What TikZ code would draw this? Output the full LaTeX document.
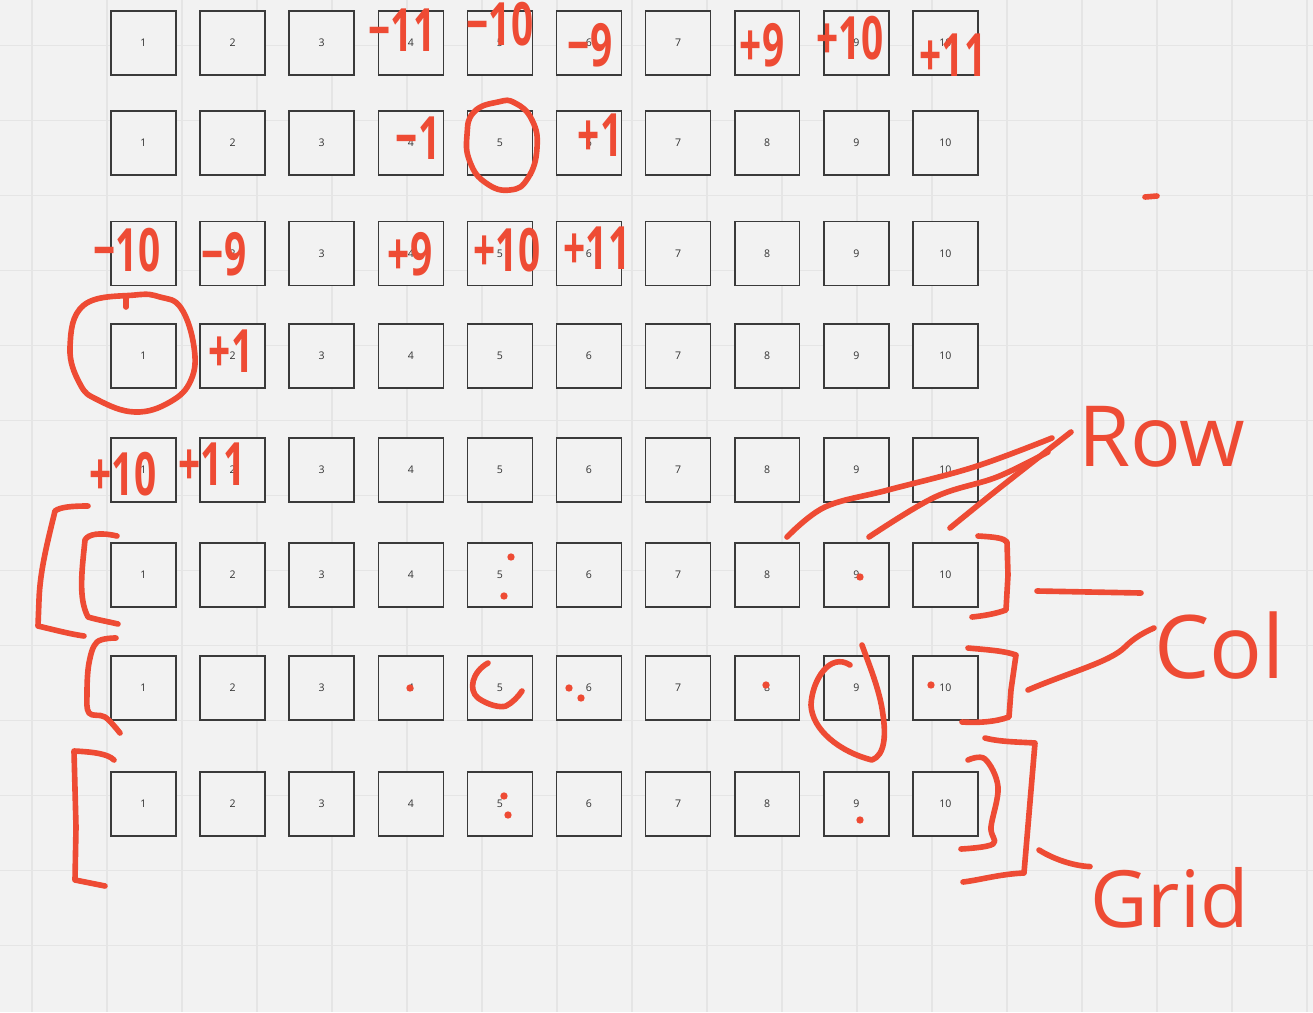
\documentclass[tikz,border=0pt]{standalone}
\usepackage{fontspec}
\setmainfont{Open Sans}
\newfontfamily\handfont[FakeStretch=0.65]{Open Sans}
\usetikzlibrary{positioning,calc}
\definecolor{PaperBg}{RGB}{242,242,242}
\definecolor{GridLine}{RGB}{229,229,229}
\definecolor{BoxLine}{RGB}{58,58,58}
\definecolor{PenRed}{RGB}{238,75,52}

\begin{document}
\begin{tikzpicture}[
    x=0.02cm, y=-0.02cm,
    cell/.style={rectangle, draw=BoxLine, line width=0.9pt, fill=PaperBg, inner sep=0pt,
        minimum width=1.3cm, minimum height=1.28cm, font=\fontsize{6}{7}\selectfont, text=black!80},
    pen/.style={draw=PenRed, line width=3.2pt, line cap=round, line join=round},
    hand/.style={text=PenRed, inner sep=0pt, font=\handfont\bfseries\fontsize{34}{34}\selectfont},
    word/.style={text=PenRed, inner sep=0pt, anchor=base west}
]
% paper and faint grid
\fill[PaperBg] (0,0) rectangle (1313,1012);
\useasboundingbox (0,0) rectangle (1313,1012);
\foreach \gx in {32,107,...,1307} \draw[GridLine, line width=0.6pt] (\gx,0) -- (\gx,1012);
\foreach \gy in {45.5,120.5,...,1010} \draw[GridLine, line width=0.6pt] (0,\gy) -- (1313,\gy);

% the eight rows of cells
\foreach \r/\ry in {1/43,2/143,3/253.5,4/356,5/470,6/575,7/688,8/804}
  \foreach \c in {1,...,10}
    \node[cell] (s\r-\c) at ({143.5+89.1*(\c-1)},\ry) {\c};

% offsets written over the cells
\node[hand] (r1m11) at (402,30) {−11};
\node[hand] (r1m10) at (500,24) {−10};
\node[hand] (r1m9)  at (590,45) {−9};
\node[hand] (r1p9)  at (762,45) {+9};
\node[hand] (r1p10) at (850,38) {+10};
\node[hand] (r1p11) at (953,55) {+11};
\node[hand] (r2m1)  at (418,138) {−1};
\node[hand] (r2p1)  at (600,135) {+1};
\node[hand] (r3m10) at (127,250) {−10};
\node[hand] (r3m9)  at (224,254) {−9};
\node[hand] (r3p9)  at (410,254) {+9};
\node[hand] (r3p10) at (507,250) {+10};
\node[hand] (r3p11) at (597,248) {+11};
\node[hand] (r4p1)  at (231,351) {+1};
\node[hand] (r5p10) at (123,474) {+10};
\node[hand] (r5p11) at (212,464) {+11};

% rings round the chosen cells
\draw[pen] plot[smooth cycle, tension=0.8] coordinates {(498,102) (474,112) (467,135) (470,162) (486,183) (510,190) (528,178) (537,148) (532,120) (515,103)};
\draw[pen] plot[smooth cycle, tension=0.7] coordinates {(135,295) (84,305) (70,347) (80,384) (98,400) (135,412) (170,402) (191,380) (194,347) (181,308) (160,297)};
\draw[pen] (126,298) -- (126,307);
\draw[pen] (488,663) .. controls (472,672) and (468,690) .. (478,698) .. controls (488,705) and (500,708) .. (506,706) .. controls (512,703) and (518,697) .. (522,691);
\draw[pen] (850,665) .. controls (830,652) and (812,680) .. (811,705) .. controls (812,730) and (840,752) .. (872,760) .. controls (885,755) and (886,735) .. (883,715) .. controls (880,690) and (868,662) .. (862,645);

% dots
\foreach \dx/\dy in {511/557,504/596,860/577,410/688,569/688,581/698,766/685,931/685,504/796,508/815,860/820}
  \fill[PenRed] (\dx,\dy) circle (2.1pt);
\draw[pen] (1145,197) -- (1157,196);

% brackets on the left
\draw[pen] (88,506) .. controls (72,506) and (60,507) .. (55,511) .. controls (48,540) and (40,570) .. (39,600) -- (38,626) .. controls (55,630) and (70,634) .. (84,636);
\draw[pen] (117,536) .. controls (100,532) and (88,534) .. (85,540) .. controls (82,570) and (78,598) .. (88,617) .. controls (98,620) and (110,622) .. (118,624);
\draw[pen] plot[smooth, tension=0.6] coordinates {(116,638) (97,642) (89,663) (87,693) (89,713) (105,717) (120,733)};
\draw[pen] (114,760) .. controls (108,754) and (95,752) .. (74,751) -- (76,827) -- (75,880) -- (105,886);

% brackets on the right
\draw[pen] (978,536) .. controls (995,537) and (1004,538) .. (1007,542) -- (1008,575) -- (1006,610) .. controls (995,614) and (982,616) .. (972,617);
\draw[pen] (968,648) .. controls (990,650) and (1005,651) .. (1016,655) -- (1011,690) -- (1009,717) .. controls (995,722) and (978,723) .. (962,722);
\draw[pen] plot[smooth, tension=0.6] coordinates {(968,760) (985,759) (998,787) (991,827) (993,844) (961,849)};
\draw[pen] (985,738) .. controls (1000,742) and (1020,742) .. (1035,743) -- (1024,873) .. controls (1000,874) and (980,880) .. (963,882);

% words and their strokes
\node[word, font=\fontsize{48}{48}\selectfont] (rowlbl) at (1078,466) {Row};
\node[word, font=\fontsize{50}{50}\selectfont] (collbl) at (1154,678) {Col};
\node[word, font=\fontsize{45}{45}\selectfont] (gridlbl) at (1090,927) {Grid};
\coordinate (rowtipa) at (1052,438);
\coordinate (rowtipb) at (1048,452);
\coordinate (rowtipc) at (1071,432);
\draw[pen] plot[smooth, tension=0.6] coordinates {(787,537) (825,507) (888,490) (974,467) (rowtipa)};
\draw[pen] plot[smooth, tension=0.6] coordinates {(869,537) (935,497) (997,477) (rowtipb)};
\draw[pen] plot[smooth, tension=0.6] coordinates {(950,528) (997,490) (rowtipc)};
\draw[pen] (1037,591) -- (1141,593);
\draw[pen] (1028,690) .. controls (1070,672) and (1110,662) .. (1125,647) .. controls (1135,637) and (1145,632) .. (collbl.west |- 0,628);
\draw[pen] (1039,850) .. controls (1055,860) and (1075,866) .. (gridlbl.north west);
\end{tikzpicture}
\end{document}
